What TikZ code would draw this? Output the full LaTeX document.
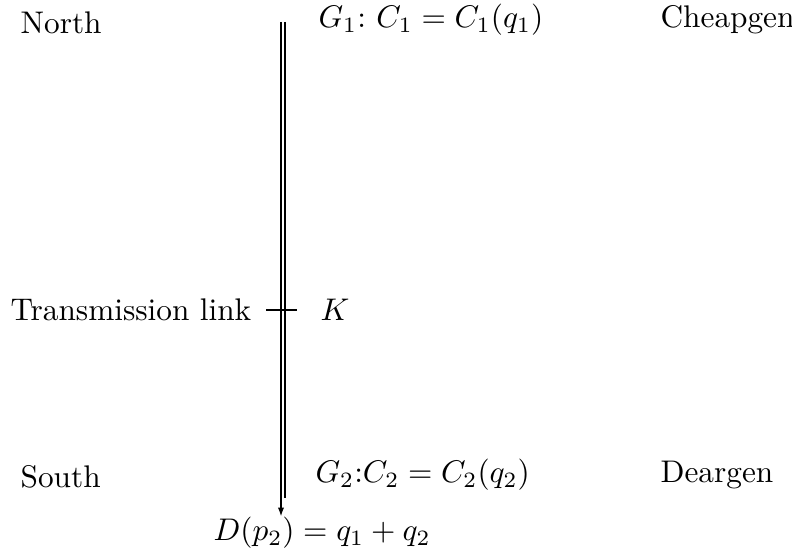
\documentclass[tikz,border=0pt]{standalone}
\usepackage{amsmath}
\usepackage{tikz}
\usetikzlibrary{arrows.meta}

\begin{document}
\begin{tikzpicture}[x=0.3195pt,y=-0.3195pt,>={Latex[length=3pt,width=2pt]},
  lab/.style={anchor=base west,inner sep=0pt},
  wire/.style={line width=0.8pt}]
  \useasboundingbox (0,0) rectangle (792,554);
  % the link
  \coordinate (ntop) at (281,22);
  \coordinate (nbot) at (281,517);
  \coordinate (stop) at (285,22);
  \coordinate (sbot) at (285,498);
  \draw[wire,->] (ntop) -- (nbot);
  \draw[wire] (stop) -- (sbot);
  \coordinate (tickl) at (266,310);
  \coordinate (tickr) at (297,310);
  \draw[wire] (tickl) -- (tickr);
  % labels
  \node[lab] (north) at (20,34) {North};
  \node[lab] (gone) at (318,28) {$G_1$:\ $C_1 = C_1(q_1)$};
  \node[lab] (cheap) at (660,28) {Cheapgen};
  \node[lab] (tlink) at (10,321) {Transmission link};
  \node[lab] (cap) at (320,321) {$K$};
  \node[lab] (south) at (20,488) {South};
  \node[lab] (gtwo) at (315,483) {$G_2$:$C_2 = C_2(q_2)$};
  \node[lab] (dear) at (660,483) {Deargen};
  \node[lab] (dem) at (213,541) {$D(p_2) = q_1 + q_2$};
\end{tikzpicture}
\end{document}
